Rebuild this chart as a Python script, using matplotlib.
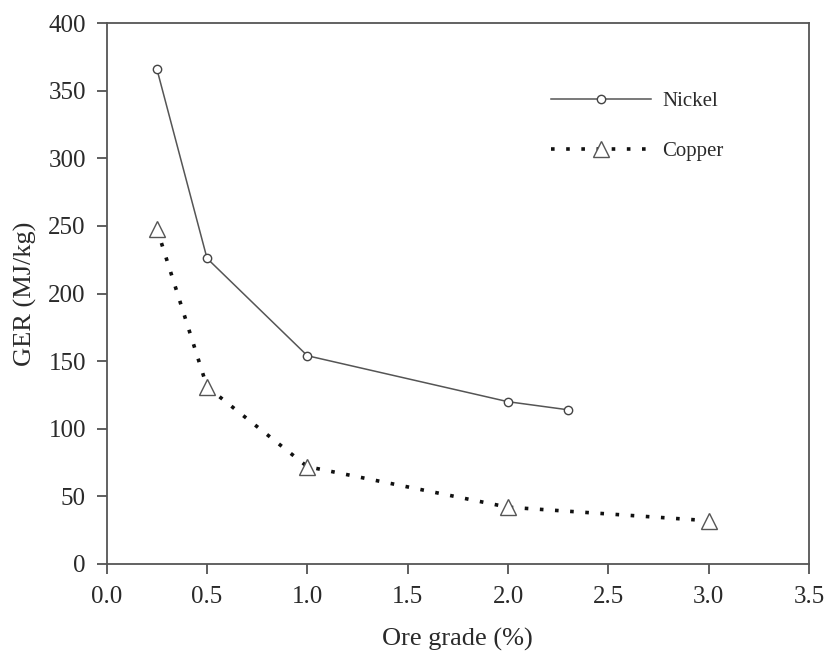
import matplotlib.pyplot as plt

plt.rcParams['font.family'] = ['Liberation Serif', 'DejaVu Serif']

# data
nickel_grade = [0.25, 0.5, 1.0, 2.0, 2.3]
nickel_ger = [366, 226, 154, 120, 114]
copper_grade = [0.25, 0.5, 1.0, 2.0, 3.0]
copper_ger = [248, 131, 72, 42, 32]

xticks = [0.0, 0.5, 1.0, 1.5, 2.0, 2.5, 3.0, 3.5]
yticks = [0, 50, 100, 150, 200, 250, 300, 350, 400]

txt = '#2a2a2a'

fig = plt.figure(figsize=(8.24, 6.51), dpi=100)
ax = fig.add_axes([106.7 / 824, 1 - 564 / 651, (809 - 106.7) / 824, (564 - 23) / 651])

ax.plot(nickel_grade, nickel_ger, color='#555555', lw=1.1, marker='o', ms=6,
        mfc='white', mec='#444444', mew=1.0, label='Nickel')
ax.plot(copper_grade, copper_ger, color='#111111', lw=2.6, dashes=(1.0, 3.2),
        marker='^', ms=11, mfc='white', mec='#555555', mew=1.0, label='Copper')

ax.set_xlim(0, 3.5)
ax.set_ylim(0, 400)
ax.set_xticks(xticks)
ax.set_xticklabels([f'{v:.1f}' for v in xticks])
ax.set_yticks(yticks)
ax.tick_params(direction='out', length=7, width=1.2, color='#444444',
               labelsize=18, labelcolor=txt, top=False, right=False, pad=8)
ax.tick_params(axis='x', pad=9)
for sp in ax.spines.values():
    sp.set_color('#555555')
    sp.set_linewidth(1.3)

ax.set_xlabel('Ore grade (%)', fontsize=19, color=txt, labelpad=14)
ax.set_ylabel('GER (MJ/kg)', fontsize=19, color=txt, labelpad=8)

leg = ax.legend(loc='upper left', bbox_to_anchor=(0.606, 0.908), frameon=False,
                handlelength=4.8, labelspacing=1.45, handletextpad=0.55, fontsize=15)
for t in leg.get_texts():
    t.set_color(txt)

fig.savefig('out.png', dpi=100)
